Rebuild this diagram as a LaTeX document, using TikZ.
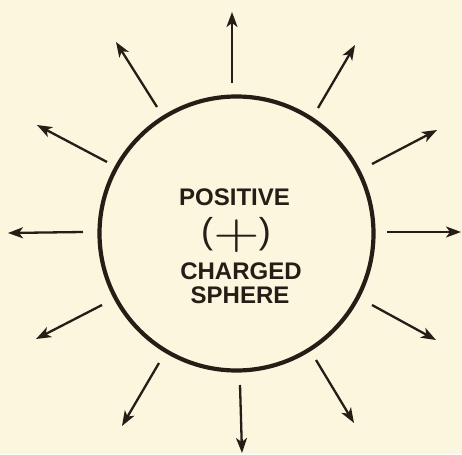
\documentclass[tikz,border=0pt]{standalone}
\usepackage{fontspec}
\setmainfont{Liberation Sans}
\newfontfamily\plusfont{lmroman10-regular.otf}
\usepackage{graphicx}
\usetikzlibrary{arrows.meta}
\definecolor{paper}{RGB}{251,246,222}
\definecolor{ink}{RGB}{38,30,22}
\begin{document}
\begin{tikzpicture}[x=1pt,y=-1pt,
  field/.style={draw=ink,line width=2.3pt,-{Stealth[length=15pt,width=11pt,inset=4pt]}},
  label/.style={text=ink,font=\fontsize{24}{24}\selectfont\bfseries,inner sep=0pt,anchor=center}]
\fill[paper] (0,0) rectangle (462,454);
\useasboundingbox (0,0) rectangle (462,454);
\node[draw=ink,line width=4.2pt,circle,minimum size=274pt,inner sep=0pt] (sphere) at (236.5,233.5) {};
\node[label] (pos) at (234.5,197) {POSITIVE};
\node[text=ink,font=\fontsize{36}{36}\selectfont,inner sep=0pt] (paren) at (236,234) {(\hspace{46pt})};
\node[text=ink,inner sep=0pt] (plus) at (237,236) {\scalebox{1}[0.82]{\plusfont\fontsize{60}{60}\selectfont +}};
\node[label] (chg) at (241,271) {CHARGED};
\node[label] (sph) at (240,295) {SPHERE};
% arrow start/end coordinates
\coordinate (s1) at (232,83);  \coordinate (e1) at (232,12);
\coordinate (s2) at (318,108); \coordinate (e2) at (355,45);
\coordinate (s3) at (372,164); \coordinate (e3) at (437,130);
\coordinate (s4) at (387,232); \coordinate (e4) at (461,232);
\coordinate (s5) at (372,305); \coordinate (e5) at (436,340);
\coordinate (s6) at (316,360); \coordinate (e6) at (354,423);
\coordinate (s7) at (240,385); \coordinate (e7) at (242,453);
\coordinate (s8) at (159,363); \coordinate (e8) at (122,426);
\coordinate (s9) at (102,305); \coordinate (e9) at (36,339);
\coordinate (s10) at (83,232); \coordinate (e10) at (8,233);
\coordinate (s11) at (107,162); \coordinate (e11) at (37,125);
\coordinate (s12) at (157,107); \coordinate (e12) at (116,42);
\foreach \i in {1,...,12} {\draw[field] (s\i) -- (e\i);}
\end{tikzpicture}
\end{document}
